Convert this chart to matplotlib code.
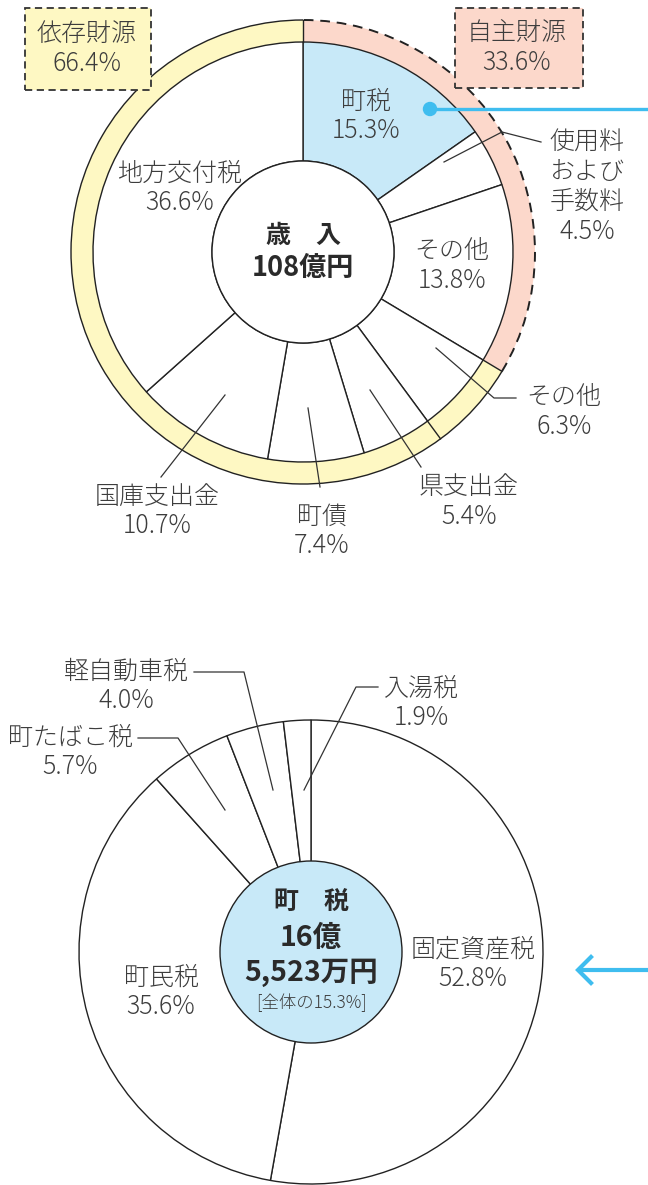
import numpy as np
import matplotlib
matplotlib.use("Agg")
import matplotlib.pyplot as plt
from matplotlib.patches import Arc, Circle, Rectangle

plt.rcParams['font.family'] = ['Noto Sans CJK JP', 'DejaVu Sans']

# ---- data: 歳入 (revenue) ----
rev_names = ["町税", "使用料\nおよび\n手数料", "その他", "その他", "県支出金",
             "町債", "国庫支出金", "地方交付税"]
rev_values = [15.3, 4.5, 13.8, 6.3, 5.4, 7.4, 10.7, 36.6]
src_names = ["自主財源", "依存財源"]
src_values = [33.6, 66.4]
rev_total = "108億円"

# ---- data: 町税 breakdown ----
tax_names = ["固定資産税", "町民税", "町たばこ税", "軽自動車税", "入湯税"]
tax_values = [52.8, 35.6, 5.7, 4.0, 1.9]
tax_total = ["16億", "5,523万円"]
tax_share = "[全体の15.3%]"

W, H = 648, 1185
TXT = '#3d3d3d'
EDGE = '#222222'
BLUE = '#c8e9f8'
PINK = '#fcd8cb'
YELLOW = '#fef8c3'
CYAN = '#3fbdef'
LBL = dict(ha='center', va='center', fontsize=18, color=TXT,
           linespacing=1.15, fontweight='light')


def Y(y):
    # image pixel row -> axes y
    return H - y


def pol(c, r, frac):
    # point on circle at fraction of the pie, clockwise from top
    a = np.deg2rad(90 - 360 * frac)
    return c[0] + r * np.cos(a), c[1] + r * np.sin(a)


fig = plt.figure(figsize=(W / 100, H / 100), dpi=100)
ax = fig.add_axes([0, 0, 1, 1])

# ================= top chart =================
c1 = (303, Y(252))
R_ring, R_pie, R_hole = 232, 210, 91

ax.pie(src_values, radius=R_ring, center=c1, startangle=90, counterclock=False,
       colors=[PINK, YELLOW], wedgeprops=dict(width=R_ring - R_pie, linewidth=0))
ax.pie(rev_values, radius=R_pie, center=c1, startangle=90, counterclock=False,
       colors=[BLUE] + ['white'] * (len(rev_values) - 1),
       wedgeprops=dict(width=R_pie - R_hole, edgecolor=EDGE, linewidth=1.0))

own = src_values[0] / 100
a_own = 90 - 360 * own
ax.add_patch(Arc(c1, 2 * R_ring, 2 * R_ring, theta1=90, theta2=a_own + 360,
                 color=EDGE, lw=1.0))
ax.add_patch(Arc(c1, 2 * R_ring, 2 * R_ring, theta1=a_own, theta2=90,
                 color=EDGE, lw=1.4, linestyle=(0, (5, 3.5))))
cum = np.cumsum(rev_values) / 100
for f in [0, own, cum[3]]:
    p0 = pol(c1, R_pie, f)
    p1 = pol(c1, R_ring, f)
    ax.plot([p0[0], p1[0]], [p0[1], p1[1]], color=EDGE, lw=1.0)

ax.add_patch(Circle(c1, R_hole, facecolor='white', edgecolor=EDGE, lw=1.0))
ax.text(c1[0], Y(236), "歳　入", ha='center', va='center', fontsize=18,
        fontweight='bold', color='#2a2a2a')
ax.text(c1[0], Y(268), rev_total, ha='center', va='center', fontsize=19.5,
        fontweight='bold', color='#2a2a2a')

# source boxes
boxes = [(455, 8, 128, 80, PINK, 517), (25, 8, 126, 82, YELLOW, 87)]
for (bx, by, bw, bh, fc, tx), name, v in zip(boxes, src_names, src_values):
    ax.add_patch(Rectangle((bx, Y(by + bh)), bw, bh, facecolor=fc,
                           edgecolor='#333333', lw=1.3, linestyle=(0, (4, 2.5))))
    ax.text(tx, Y(by + bh / 2), f"{name}\n{v}%", **LBL)

rev_pos = [(366, 116), (587, 187), (452, 266), (564, 412), (469, 502),
           (322, 531), (157, 511), (180, 188)]
for (x, y), name, v in zip(rev_pos, rev_names, rev_values):
    ax.text(x, Y(y), f"{name}\n{v}%", **LBL)

rev_leaders = [
    [(444, 162), (502, 132), (541, 142)],
    [(436, 348), (494, 398), (516, 398)],
    [(370, 390), (421, 467)],
    [(308, 408), (320, 487)],
    [(225, 395), (161, 477)],
]
for pts in rev_leaders:
    ax.plot([p[0] for p in pts], [Y(p[1]) for p in pts], color='#333333', lw=0.9)

# link from 町税 to breakdown
ax.plot([430, W], [Y(109), Y(109)], color=CYAN, lw=2.4, solid_capstyle='butt')
ax.add_patch(Circle((430, Y(109)), 6.5, color=CYAN))

# ================= bottom chart =================
c2 = (311, Y(952))
R2, R2_hole = 232, 91
ax.pie(tax_values, radius=R2, center=c2, startangle=90, counterclock=False,
       colors=['white'] * len(tax_values),
       wedgeprops=dict(edgecolor=EDGE, linewidth=1.0))
ax.add_patch(Circle(c2, R2_hole, facecolor=BLUE, edgecolor=EDGE, lw=1.0))

ax.text(c2[0], Y(902), "町　税", ha='center', va='center', fontsize=18,
        fontweight='bold', color='#2a2a2a')
ax.text(c2[0], Y(938), tax_total[0], ha='center', va='center', fontsize=20.5,
        fontweight='bold', color='#2a2a2a')
ax.text(c2[0], Y(973), tax_total[1], ha='center', va='center', fontsize=20.5,
        fontweight='bold', color='#2a2a2a')
ax.text(c2[0], Y(1003), tax_share, ha='center', va='center', fontsize=12.5,
        color=TXT, fontweight='light')

tax_pos = [(473, 964), (161, 992), (70, 752), (126, 686), (421, 703)]
for (x, y), name, v in zip(tax_pos, tax_names, tax_values):
    ax.text(x, Y(y), f"{name}\n{v}%", **LBL)

tax_leaders = [
    [(304, 790), (356, 687), (378, 687)],
    [(273, 790), (244, 672), (194, 672)],
    [(225, 810), (178, 738), (138, 738)],
]
for pts in tax_leaders:
    ax.plot([p[0] for p in pts], [Y(p[1]) for p in pts], color='#333333', lw=0.9)

# arrow from the right
ax.plot([W, 578], [Y(970), Y(970)], color=CYAN, lw=3, solid_capstyle='butt')
ax.plot([591, 578, 591], [Y(957), Y(970), Y(983)], color=CYAN, lw=3,
        solid_joinstyle='miter')

ax.set_xlim(0, W)
ax.set_ylim(0, H)
ax.set_aspect('equal')
ax.axis('off')

fig.savefig("out.png", dpi=100, facecolor='white')
